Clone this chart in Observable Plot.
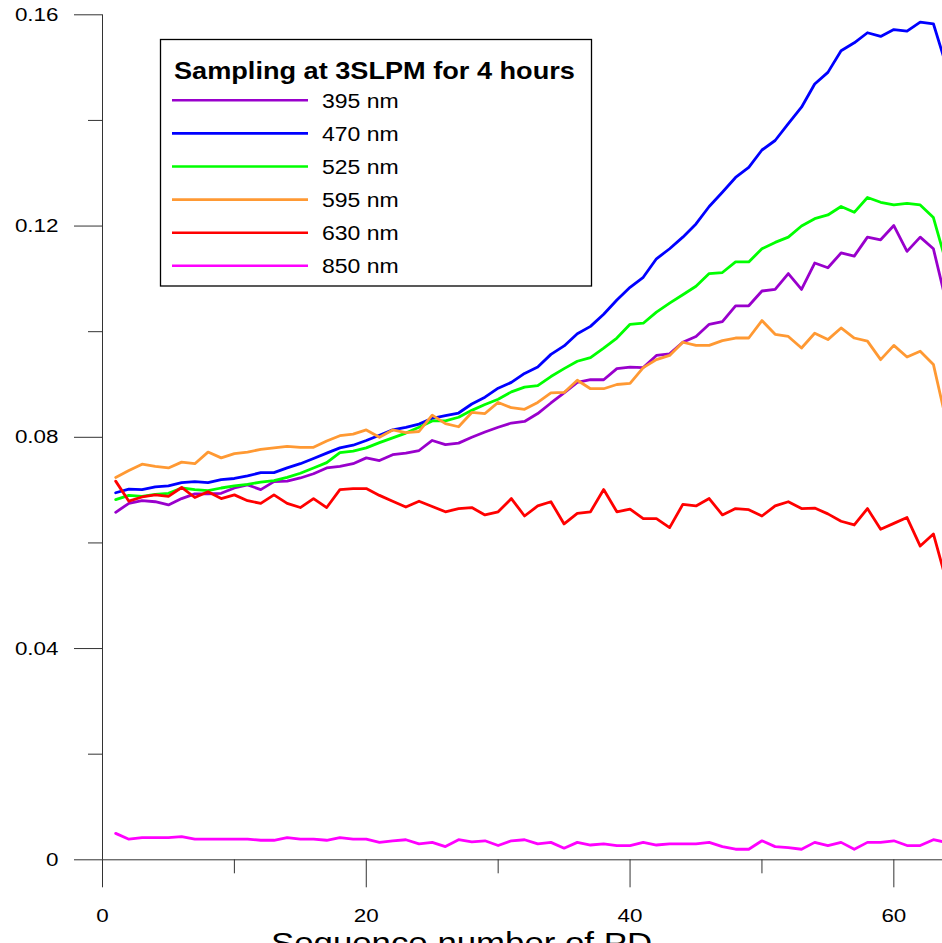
<!DOCTYPE html>
<html>
<head>
<meta charset="utf-8">
<script src="https://cdn.jsdelivr.net/npm/d3@7"></script>
<script src="https://cdn.jsdelivr.net/npm/@observablehq/plot@0.6"></script>
<style>
  html, body { margin: 0; padding: 0; background: #fff; overflow: hidden; }
</style>
</head>
<body>
<script>
// ---- data ----
const seqIndex = d3.range(1, 65); // sample sequence numbers 1..64

const v395 = [0.0658,0.0675,0.0680,0.0678,0.0672,0.0684,0.0693,0.0693,0.0694,0.0704,0.0710,0.0701,0.0716,0.0717,0.0723,0.0731,0.0742,0.0745,0.0750,0.0761,0.0756,0.0767,0.0770,0.0775,0.0794,0.0786,0.0789,0.0800,0.0810,0.0819,0.0827,0.0830,0.0845,0.0865,0.0884,0.0904,0.0909,0.0909,0.0930,0.0933,0.0932,0.0955,0.0958,0.0980,0.0991,0.1014,0.1019,0.1049,0.1049,0.1077,0.1080,0.1110,0.1080,0.1130,0.1121,0.1149,0.1143,0.1179,0.1174,0.1201,0.1152,0.1179,0.1157,0.1053];
const v470 = [0.0695,0.0702,0.0701,0.0706,0.0708,0.0714,0.0716,0.0714,0.0720,0.0722,0.0727,0.0733,0.0733,0.0742,0.0750,0.0760,0.0770,0.0780,0.0785,0.0794,0.0804,0.0814,0.0819,0.0825,0.0836,0.0841,0.0846,0.0863,0.0876,0.0893,0.0904,0.0921,0.0933,0.0957,0.0973,0.0996,0.1010,0.1033,0.1060,0.1084,0.1103,0.1138,0.1157,0.1179,0.1204,0.1237,0.1264,0.1292,0.1311,0.1344,0.1362,0.1394,0.1425,0.1469,0.1491,0.1532,0.1547,0.1566,0.1559,0.1572,0.1569,0.1586,0.1583,0.1502];
const v525 = [0.0682,0.0690,0.0688,0.0692,0.0694,0.0704,0.0701,0.0699,0.0704,0.0708,0.0711,0.0715,0.0718,0.0724,0.0732,0.0742,0.0752,0.0771,0.0774,0.0780,0.0790,0.0799,0.0808,0.0819,0.0831,0.0831,0.0838,0.0851,0.0862,0.0872,0.0886,0.0895,0.0898,0.0915,0.0930,0.0944,0.0951,0.0969,0.0988,0.1014,0.1016,0.1037,0.1054,0.1070,0.1086,0.1110,0.1112,0.1132,0.1132,0.1157,0.1169,0.1179,0.1200,0.1214,0.1221,0.1237,0.1226,0.1254,0.1245,0.1240,0.1243,0.1240,0.1216,0.1128];
const v595 = [0.0724,0.0737,0.0749,0.0745,0.0742,0.0753,0.0750,0.0772,0.0761,0.0769,0.0772,0.0777,0.0780,0.0783,0.0781,0.0781,0.0793,0.0803,0.0806,0.0814,0.0800,0.0814,0.0809,0.0811,0.0842,0.0826,0.0820,0.0847,0.0845,0.0866,0.0856,0.0853,0.0866,0.0884,0.0885,0.0908,0.0892,0.0892,0.0900,0.0902,0.0932,0.0947,0.0955,0.0980,0.0974,0.0974,0.0983,0.0988,0.0988,0.1021,0.0995,0.0991,0.0969,0.0997,0.0985,0.1007,0.0988,0.0982,0.0947,0.0974,0.0952,0.0963,0.0938,0.0828];
const v630 = [0.0717,0.0679,0.0687,0.0691,0.0688,0.0705,0.0686,0.0697,0.0684,0.0691,0.0680,0.0675,0.0691,0.0675,0.0667,0.0684,0.0667,0.0701,0.0703,0.0703,0.0690,0.0679,0.0668,0.0679,0.0669,0.0659,0.0665,0.0667,0.0653,0.0659,0.0684,0.0651,0.0670,0.0678,0.0636,0.0656,0.0659,0.0701,0.0659,0.0664,0.0646,0.0646,0.0629,0.0673,0.0670,0.0684,0.0653,0.0665,0.0663,0.0651,0.0670,0.0678,0.0665,0.0666,0.0655,0.0641,0.0634,0.0665,0.0626,0.0637,0.0648,0.0594,0.0617,0.0527];
const v850 = [0.0050,0.0039,0.0042,0.0042,0.0042,0.0044,0.0039,0.0039,0.0039,0.0039,0.0039,0.0037,0.0037,0.0042,0.0039,0.0039,0.0037,0.0042,0.0039,0.0039,0.0033,0.0036,0.0038,0.0030,0.0033,0.0025,0.0038,0.0034,0.0036,0.0027,0.0036,0.0038,0.0030,0.0033,0.0022,0.0033,0.0028,0.0030,0.0027,0.0027,0.0033,0.0028,0.0030,0.0030,0.0030,0.0033,0.0025,0.0020,0.0020,0.0036,0.0025,0.0023,0.0020,0.0033,0.0027,0.0033,0.0020,0.0033,0.0033,0.0036,0.0027,0.0027,0.0038,0.0033];

const seriesNames  = ["395 nm", "470 nm", "525 nm", "595 nm", "630 nm", "850 nm"];
const seriesColors = ["#9900CC", "#0000FF", "#00FF00", "#FF9933", "#FF0000", "#FF00FF"];
const seriesValues = [v395, v470, v525, v595, v630, v850];

const legendTitle = "Sampling at 3SLPM for 4 hours";
const xLabel = "Sequence number of PD";
const yMajorTicks = [0, 0.04, 0.08, 0.12, 0.16];
const yMinorTicks = [0.02, 0.06, 0.10, 0.14];
const xMajorTicks = [0, 20, 40, 60];
const xMinorTicks = [10, 30, 50];

// ---- chart ----
const FONT = "'Liberation Sans', Arial, Helvetica, sans-serif";
const STRETCH = 1.18;
const axisColor = "#333";

const lineMarks = seriesValues.map((vals, k) =>
  Plot.line(vals, {x: seqIndex, y: vals, stroke: seriesColors[k], strokeWidth: 2.8, clip: true})
);

const chart = Plot.plot({
  width: 942,
  height: 943,
  marginLeft: 102,
  marginRight: 0,
  marginTop: 14.3,
  marginBottom: 83.7,
  x: {domain: [0, 63.69]},
  y: {domain: [0, 0.16]},
  style: {fontFamily: FONT, fontSize: "19px", background: "white", color: "#000"},
  marks: [
    ...lineMarks,
    Plot.ruleX([0], {stroke: axisColor}),
    Plot.ruleY([0], {stroke: axisColor}),
    Plot.axisY({ticks: yMajorTicks, tickSize: 28, tickPadding: 16, label: null, stroke: axisColor,
      tickFormat: d => d === 0 ? "0" : d.toFixed(2)}),
    Plot.axisY({ticks: yMinorTicks, tickSize: 14, label: null, stroke: axisColor, tickFormat: () => ""}),
    Plot.axisX({ticks: xMajorTicks, tickSize: 28, tickPadding: 21, label: null, stroke: axisColor,
      tickFormat: d => String(d)}),
    Plot.axisX({ticks: xMinorTicks, tickSize: 14, label: null, stroke: axisColor, tickFormat: () => ""})
  ]
});

// horizontally stretch all axis text (reference glyphs are wider than Arial)
function stretchText(t, k) {
  const tr = t.getAttribute("transform");
  if (tr) {
    t.setAttribute("transform", tr + ` scale(${k},1)`);
  } else {
    const x = +t.getAttribute("x") || 0, y = +t.getAttribute("y") || 0;
    t.removeAttribute("x"); t.removeAttribute("y");
    t.setAttribute("transform", `translate(${x},${y}) scale(${k},1)`);
  }
}
chart.querySelectorAll("text").forEach(t => stretchText(t, STRETCH));

// ---- legend box and x label (layout overlay) ----
const svg = d3.select(chart);
const lg = svg.append("g").attr("font-family", FONT).attr("text-anchor", "start");
lg.append("rect")
  .attr("x", 160.5).attr("y", 39.5).attr("width", 431).attr("height", 246.5)
  .attr("fill", "white").attr("stroke", "#000").attr("stroke-width", 1.3);
lg.append("text")
  .attr("transform", `translate(174,78.5) scale(${STRETCH},1)`)
  .attr("text-anchor", "start")
  .attr("font-size", 23).attr("font-weight", "bold").attr("fill", "#000")
  .text(legendTitle);
seriesNames.forEach((name, k) => {
  const yy = 100.3 + k * 33.1;
  lg.append("line")
    .attr("x1", 172).attr("x2", 308).attr("y1", yy).attr("y2", yy)
    .attr("stroke", seriesColors[k]).attr("stroke-width", 2.6);
  lg.append("text")
    .attr("transform", `translate(322,${yy + 7.6}) scale(${STRETCH},1)`)
    .attr("text-anchor", "start")
    .attr("font-size", 19.5).attr("fill", "#000")
    .text(name);
});
svg.append("text")
  .attr("transform", `translate(271,953) scale(${STRETCH},1)`)
  .attr("text-anchor", "start")
  .attr("font-family", FONT).attr("font-size", 29.5).attr("fill", "#000")
  .text(xLabel);

document.body.appendChild(chart);
</script>
</body>
</html>
